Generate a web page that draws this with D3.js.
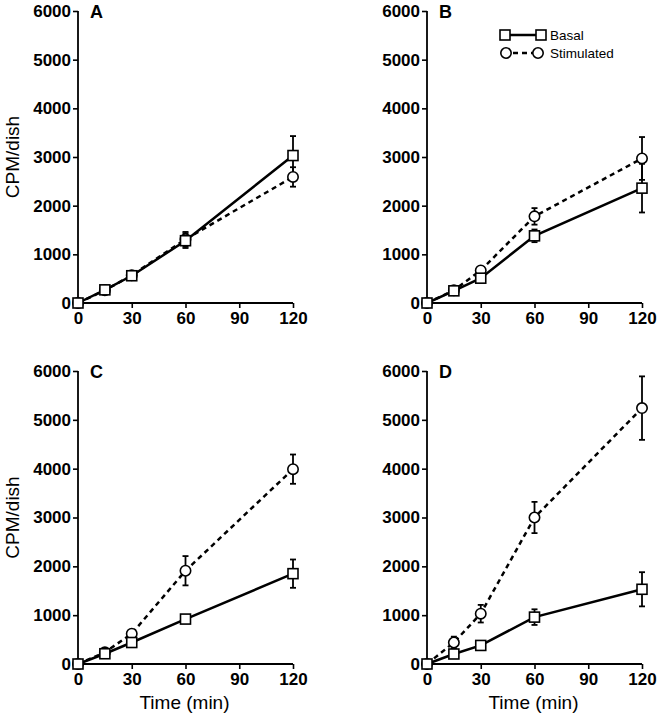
<!DOCTYPE html>
<html><head><meta charset="utf-8">
<script src="https://cdn.jsdelivr.net/npm/d3@7"></script>
<style>body{margin:0;background:#fff}svg{display:block}</style>
</head><body><div id="chart"></div>
<script>
const times = [0, 15, 30, 60, 120];
const xTicks = [0, 30, 60, 90, 120];
const yTicks = [0, 1000, 2000, 3000, 4000, 5000, 6000];
const panelLabels = ["A", "B", "C", "D"];
const seriesNames = ["Basal", "Stimulated"];

const basalA = [0, 270, 560, 1280, 3030];
const basalAErr = [0, 30, 40, 150, 400];
const stimA = [0, 260, 570, 1310, 2590];
const stimAErr = [0, 30, 40, 150, 200];

const basalB = [0, 250, 510, 1380, 2360];
const basalBErr = [0, 30, 40, 130, 500];
const stimB = [0, 260, 670, 1780, 2970];
const stimBErr = [0, 30, 50, 170, 440];

const basalC = [0, 210, 440, 920, 1850];
const basalCErr = [0, 30, 40, 80, 290];
const stimC = [0, 240, 620, 1910, 3990];
const stimCErr = [0, 30, 50, 300, 300];

const basalD = [0, 205, 380, 960, 1530];
const basalDErr = [0, 30, 40, 160, 350];
const stimD = [0, 440, 1030, 3000, 5240];
const stimDErr = [0, 120, 180, 320, 650];

const panels = [
  {label: panelLabels[0], basal: basalA, basalErr: basalAErr, stim: stimA, stimErr: stimAErr, x0: 78, x1: 293, y0: 303, y1: 11, yLabel: true, xLabel: false, legend: false},
  {label: panelLabels[1], basal: basalB, basalErr: basalBErr, stim: stimB, stimErr: stimBErr, x0: 427, x1: 642, y0: 303, y1: 11, yLabel: false, xLabel: false, legend: true},
  {label: panelLabels[2], basal: basalC, basalErr: basalCErr, stim: stimC, stimErr: stimCErr, x0: 78, x1: 293, y0: 664, y1: 371, yLabel: true, xLabel: true, legend: false},
  {label: panelLabels[3], basal: basalD, basalErr: basalDErr, stim: stimD, stimErr: stimDErr, x0: 427, x1: 642, y0: 664, y1: 371, yLabel: false, xLabel: true, legend: false}
];

const W = 659, H = 719;
const svg = d3.select("#chart").append("svg").attr("width", W).attr("height", H)
  .style("font-family", "'Liberation Sans', Arial, sans-serif");

const LW = 2.5;
const DASH = "5,4";
const SQ = 10, CR = 5.2;

function drawSquare(g, x, y) {
  g.append("rect").attr("x", x - SQ/2).attr("y", y - SQ/2).attr("width", SQ).attr("height", SQ)
    .attr("fill", "#fff").attr("stroke", "#000").attr("stroke-width", 1.6);
}
function drawCircle(g, x, y) {
  g.append("circle").attr("cx", x).attr("cy", y).attr("r", CR)
    .attr("fill", "#fff").attr("stroke", "#000").attr("stroke-width", 1.6);
}

panels.forEach(p => {
  const x = d3.scaleLinear().domain([0, 120]).range([p.x0, p.x1]);
  const y = d3.scaleLinear().domain([0, 6000]).range([p.y0, p.y1]);
  const g = svg.append("g");

  // y axis
  const yAx = g.append("g").attr("transform", `translate(${p.x0},0)`)
    .call(d3.axisLeft(y).tickValues(yTicks).tickSize(5).tickPadding(2).tickFormat(d3.format("d")));
  yAx.select(".domain").attr("d", `M0,${p.y0}V${p.y1}`).attr("stroke-width", 1.8);
  yAx.selectAll(".tick line").attr("stroke-width", 1.6);
  yAx.selectAll(".tick text").attr("font-size", 17).attr("font-weight", "bold").attr("fill", "#000");

  // x axis
  const xAx = g.append("g").attr("transform", `translate(0,${p.y0})`)
    .call(d3.axisBottom(x).tickValues(xTicks).tickSize(5).tickPadding(4));
  xAx.select(".domain").attr("d", `M${p.x0},0H${p.x1}`).attr("stroke-width", 1.8);
  xAx.selectAll(".tick line").attr("stroke-width", 1.6);
  xAx.selectAll(".tick text").attr("font-size", 17).attr("font-weight", "bold").attr("fill", "#000");

  // panel letter
  g.append("text").attr("x", p.x0 + 12).attr("y", p.y1 + 7).text(p.label)
    .attr("font-size", 18).attr("font-weight", "bold");

  if (p.yLabel) {
    g.append("text").attr("transform", `translate(19,${(p.y0 + p.y1) / 2}) rotate(-90)`)
      .attr("text-anchor", "middle").attr("font-size", 19).text("CPM/dish");
  }
  if (p.xLabel) {
    g.append("text").attr("x", (p.x0 + p.x1) / 2 - 1).attr("y", 709)
      .attr("text-anchor", "middle").attr("font-size", 19).text("Time (min)");
  }

  const line = d3.line().x((d, i) => x(times[i])).y(d => y(d));
  g.append("path").datum(p.stim).attr("d", line).attr("fill", "none")
    .attr("stroke", "#000").attr("stroke-width", LW).attr("stroke-dasharray", DASH);
  g.append("path").datum(p.basal).attr("d", line).attr("fill", "none")
    .attr("stroke", "#000").attr("stroke-width", LW);

  function errBars(vals, errs) {
    vals.forEach((v, i) => {
      const e = errs[i];
      if (!e) return;
      const cx = x(times[i]);
      g.append("line").attr("x1", cx).attr("x2", cx).attr("y1", y(v - e)).attr("y2", y(v + e))
        .attr("stroke", "#000").attr("stroke-width", 1.8);
      [v - e, v + e].forEach(t => {
        g.append("line").attr("x1", cx - 3).attr("x2", cx + 3).attr("y1", y(t)).attr("y2", y(t))
          .attr("stroke", "#000").attr("stroke-width", 1.8);
      });
    });
  }
  errBars(p.stim, p.stimErr);
  errBars(p.basal, p.basalErr);

  p.stim.forEach((v, i) => drawCircle(g, x(times[i]), y(v)));
  p.basal.forEach((v, i) => drawSquare(g, x(times[i]), y(v)));

  if (p.legend) {
    const lg = svg.append("g");
    lg.append("line").attr("x1", 505).attr("x2", 541).attr("y1", 35).attr("y2", 35)
      .attr("stroke", "#000").attr("stroke-width", LW);
    drawSquare(lg, 505, 35); drawSquare(lg, 541, 35);
    lg.append("text").attr("x", 550).attr("y", 40).attr("font-size", 13.5).text(seriesNames[0]);
    lg.append("line").attr("x1", 511).attr("x2", 533).attr("y1", 53).attr("y2", 53)
      .attr("stroke", "#000").attr("stroke-width", LW).attr("stroke-dasharray", "5,4").attr("stroke-dashoffset", -2);
    drawCircle(lg, 506, 53); drawCircle(lg, 538, 53);
    lg.append("text").attr("x", 550).attr("y", 58).attr("font-size", 13.5).text(seriesNames[1]);
  }
});
</script>
</body></html>
